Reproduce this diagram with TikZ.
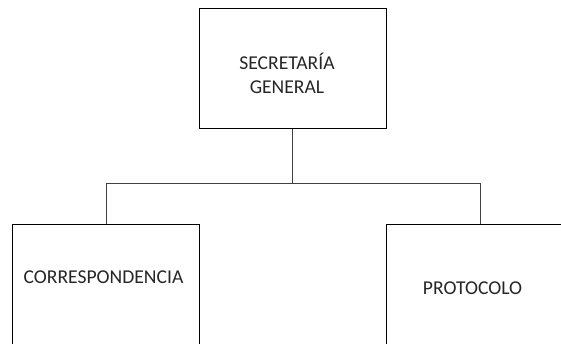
\documentclass[tikz,border=0pt]{standalone}
\usepackage{fontspec}
\setmainfont{Carlito}
\begin{document}
\begin{tikzpicture}[x=1pt,y=-1pt,
  box/.style={draw=black, line width=0.9pt, rectangle, inner sep=0pt, anchor=north west},
  lbl/.style={font=\fontsize{19.6}{24}\selectfont, text=black!85, align=center, inner sep=0pt},
  conn/.style={draw=black!75, line width=1pt}]
\useasboundingbox (0,0) rectangle (561,343);
\clip (0,0) rectangle (561,343);
\node[box, minimum width=187pt, minimum height=119.5pt] (sg) at (199,8.3) {};
\node[box, minimum width=187pt, minimum height=140pt] (co) at (12.3,223.5) {};
\node[box, minimum width=190pt, minimum height=140pt] (pr) at (386,223.5) {};
\node[lbl] (sgt) at (287,73) {SECRETARÍA\\GENERAL};
\node[lbl] (cot) at (103.5,277.5) {CORRESPONDENCIA};
\node[lbl] (prt) at (472.5,288.5) {PROTOCOLO};
\coordinate (mid) at (292.7,183.3);
\coordinate (lj) at (106,223.5);
\coordinate (rj) at (480,223.5);
\draw[conn] (sg.south -| mid) -- (mid);
\draw[conn] (mid) -| (lj);
\draw[conn] (mid) -| (rj);
\end{tikzpicture}
\end{document}
